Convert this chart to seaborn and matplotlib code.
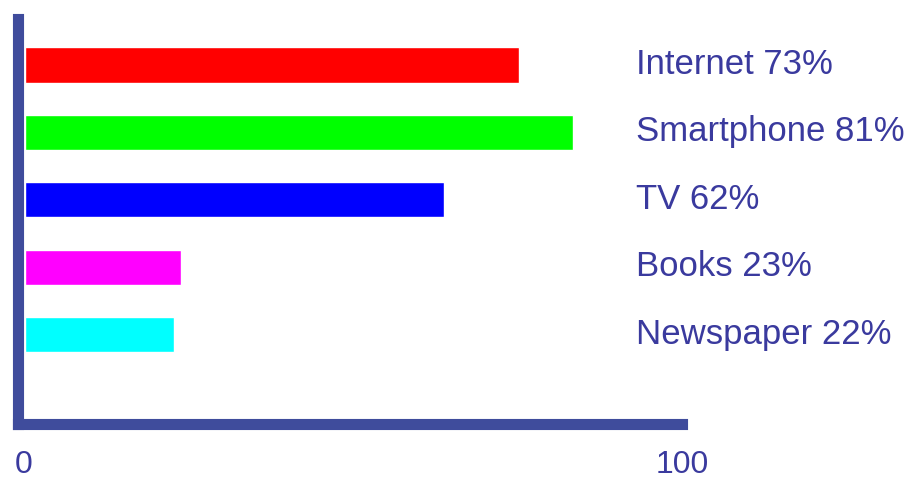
import pandas as pd
import seaborn as sns
import matplotlib.pyplot as plt

# data
categories = ["Internet", "Smartphone", "TV", "Books", "Newspaper"]
shares = [73, 81, 62, 23, 22]
bar_colors = ["#FF0000", "#00FF00", "#0000FF", "#FF00FF", "#00FFFF"]
tick_labels = ["0", "100"]

axis_color = "#3F4C9C"
text_color = "#3A3A9E"

sns.set_style("white")
plt.rcParams['font.family'] = ['Liberation Sans', 'DejaVu Sans']

df = pd.DataFrame({"medium": categories, "share": shares})

fig = plt.figure(figsize=(9.12, 4.8), dpi=100)
ax = fig.add_axes([0.0197, 0.1167, 0.7286, 0.8427])

sns.barplot(data=df, y="medium", x="share", hue="medium", palette=bar_colors,
            orient="h", width=0.52, legend=False, saturation=1, ax=ax)

# labels to the right of the bars
for i, (name, val) in enumerate(zip(categories, shares)):
    ax.text(90.3, i + 0.13, f"{name} {val}%", va="baseline", ha="left",
            fontsize=25, color=text_color, clip_on=False)

ax.set_xlim(-1.03, 96.97)
ax.set_ylim(5.32, -0.674)
ax.set_ylabel("")
ax.set_xlabel("")
ax.set_yticks([])
ax.set_xticks([-0.15, 97.2])
ax.set_xticklabels(tick_labels, fontsize=23, color=text_color)
ax.tick_params(axis="x", length=0, pad=19)

for side in ["top", "right"]:
    ax.spines[side].set_visible(False)
for side in ["left", "bottom"]:
    ax.spines[side].set_color(axis_color)
    ax.spines[side].set_linewidth(8)
    ax.spines[side].set_capstyle("projecting")

fig.savefig("out.png", dpi=100)
